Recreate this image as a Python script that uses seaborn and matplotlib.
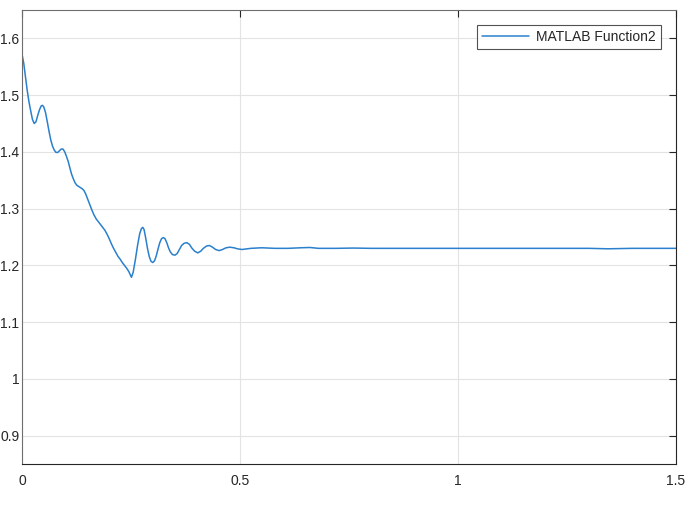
"""
Recreation of a MATLAB-style step response plot with seaborn.
"""

import numpy as np
import pandas as pd
import matplotlib
matplotlib.use("Agg")
import matplotlib.pyplot as plt
import seaborn as sns

# Values
t = [0.000, 0.004, 0.008, 0.012, 0.016, 0.020, 0.024, 0.028, 0.032, 0.036,
     0.040, 0.044, 0.047, 0.050, 0.054, 0.058, 0.062, 0.066, 0.070, 0.074,
     0.078, 0.082, 0.086, 0.090, 0.094, 0.098, 0.102, 0.106, 0.110, 0.114,
     0.118, 0.122, 0.126, 0.130, 0.134, 0.138, 0.142, 0.146, 0.150, 0.155,
     0.160, 0.165, 0.170, 0.175, 0.180, 0.185, 0.190, 0.195, 0.200, 0.205,
     0.210, 0.215, 0.220, 0.225, 0.230, 0.235, 0.240, 0.245, 0.248, 0.251,
     0.255, 0.260, 0.265, 0.270, 0.274, 0.277, 0.280, 0.284, 0.288, 0.292,
     0.296, 0.300, 0.304, 0.308, 0.312, 0.316, 0.320, 0.324, 0.328, 0.332,
     0.336, 0.340, 0.345, 0.351, 0.356, 0.361, 0.366, 0.372, 0.378, 0.384,
     0.390, 0.396, 0.403, 0.410, 0.416, 0.423, 0.430, 0.437, 0.444, 0.452,
     0.460, 0.468, 0.477, 0.486, 0.495, 0.505, 0.515, 0.525, 0.550, 0.580,
     0.610, 0.640, 0.660, 0.680, 0.720, 0.760, 0.800, 0.900, 1.000, 1.100,
     1.200, 1.300, 1.344, 1.400, 1.500]
y = [1.572, 1.556, 1.532, 1.508, 1.488, 1.472, 1.457, 1.450, 1.453, 1.464,
     1.474, 1.481, 1.482, 1.479, 1.469, 1.453, 1.436, 1.421, 1.410, 1.403,
     1.399, 1.399, 1.402, 1.405, 1.405, 1.400, 1.392, 1.383, 1.371, 1.360,
     1.352, 1.345, 1.341, 1.339, 1.337, 1.335, 1.332, 1.326, 1.318, 1.308,
     1.298, 1.289, 1.282, 1.277, 1.272, 1.267, 1.262, 1.255, 1.247, 1.238,
     1.230, 1.223, 1.216, 1.211, 1.205, 1.200, 1.195, 1.189, 1.184, 1.179,
     1.188, 1.210, 1.235, 1.256, 1.265, 1.267, 1.263, 1.247, 1.229, 1.215,
     1.207, 1.205, 1.208, 1.217, 1.229, 1.240, 1.247, 1.249, 1.247, 1.240,
     1.231, 1.224, 1.219, 1.218, 1.221, 1.228, 1.235, 1.239, 1.240, 1.237,
     1.230, 1.225, 1.222, 1.225, 1.230, 1.234, 1.235, 1.232, 1.228, 1.226,
     1.228, 1.231, 1.232, 1.231, 1.229, 1.228, 1.229, 1.230, 1.231, 1.230,
     1.230, 1.231, 1.2315, 1.230, 1.230, 1.2305, 1.230, 1.230, 1.230, 1.230,
     1.230, 1.230, 1.2292, 1.230, 1.230]

x_ticks = [0, 0.5, 1, 1.5]
x_labels = ["0", "0.5", "1", "1.5"]
y_ticks = [0.9, 1.0, 1.1, 1.2, 1.3, 1.4, 1.5, 1.6]
y_labels = ["0.9", "1", "1.1", "1.2", "1.3", "1.4", "1.5", "1.6"]
series_name = "MATLAB Function2"

df = pd.DataFrame({"t": t, "y": y, "series": series_name})

sns.set_style("white")
plt.rcParams["font.family"] = ["Liberation Sans", "DejaVu Sans"]

fig = plt.figure(figsize=(6.92, 5.09), dpi=100)
ax = fig.add_axes([0.0318, 0.0884, 0.9451, 0.892])

sns.lineplot(data=df, x="t", y="y", hue="series", palette=["#2a80cc"],
             sort=False, estimator=None, linewidth=1.1, ax=ax)

ax.set_xlim(0, 1.5)
ax.set_ylim(0.85, 1.65)
ax.set_xticks(x_ticks)
ax.set_xticklabels(x_labels)
ax.set_yticks(y_ticks)
ax.set_yticklabels(y_labels)
ax.set_xlabel("")
ax.set_ylabel("")

# MATLAB-like look: grid, box, inward ticks on all sides
ax.grid(True, color="#e3e3e3", linewidth=0.8)
ax.set_axisbelow(True)
for s in ax.spines.values():
    s.set_visible(True)
    s.set_color("#262626")
    s.set_linewidth(0.8)
ax.spines["top"].set_color("#6e6e6e")
ax.spines["left"].set_color("#6e6e6e")
ax.tick_params(direction="in", length=5, width=0.8, color="#262626",
               top=True, right=True, labelsize=10, labelcolor="#262626")
ax.tick_params(axis="x", pad=7)
ax.tick_params(axis="y", pad=2)

leg = ax.legend(loc="upper right", frameon=True, fancybox=False,
                fontsize=10, handlelength=3.4, handletextpad=0.5,
                borderaxespad=1.1, borderpad=0.35)
leg.get_frame().set_edgecolor("#262626")
leg.get_frame().set_linewidth(0.8)

plt.savefig("out.png", dpi=100)
